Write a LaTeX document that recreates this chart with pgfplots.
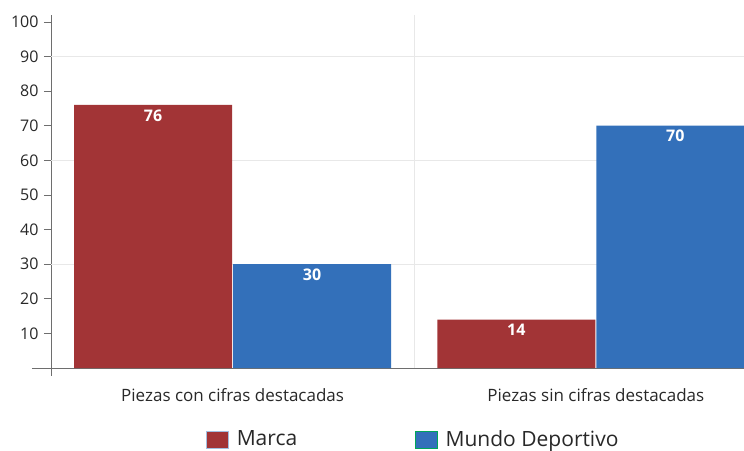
\documentclass[border=0pt]{standalone}
\usepackage{fontspec}
\setmainfont{Open Sans}
\usepackage{pgfplots}
\pgfplotsset{compat=1.18}
\definecolor{marca}{RGB}{162,52,54}
\definecolor{mundo}{RGB}{51,112,186}
\definecolor{axgray}{RGB}{110,110,110}
\definecolor{gridgray}{RGB}{232,232,232}
\definecolor{txt}{RGB}{40,40,40}
\begin{document}
\begin{tikzpicture}
\useasboundingbox (-51pt,-82pt) rectangle (693pt,368pt);
\begin{axis}[
  name=ax,
  at={(0,0)}, anchor=south west,
  scale only axis,
  width=693pt, height=353pt,
  xmin=-0.5, xmax=1.408,
  ymin=0, ymax=102,
  ybar=1pt, bar width=158pt,
  axis lines*=left,
  axis line style={axgray, line width=0.9pt},
  xtick={0,1},
  xticklabels={Piezas con cifras destacadas, Piezas sin cifras destacadas},
  x tick style={draw=none},
  xticklabel style={font=\fontsize{17}{19}\selectfont, text=txt, yshift=-10pt},
  ytick={10,20,...,100},
  y tick style={axgray, line width=0.8pt},
  tick align=outside,
  major tick length=7pt,
  yticklabel style={font=\fontsize{16}{18}\selectfont, text=txt, xshift=-2pt},
  /pgf/number format/assume math mode=true,
  extra y ticks={30,60,90},
  extra y tick labels={},
  extra y tick style={grid=major, major grid style={gridgray, line width=0.9pt}, tick style={draw=none}},
  extra x ticks={0.5},
  extra x tick labels={},
  extra x tick style={grid=major, major grid style={gridgray, line width=0.9pt}, tick style={draw=none}},
  nodes near coords,
  nodes near coords style={anchor=north, text=white, font=\bfseries\fontsize{16}{18}\selectfont, yshift=-1pt},
  legend style={at={(0.523,-0.165)}, anchor=north, draw=none, legend columns=2,
    font=\fontsize{21}{23}\selectfont, text=txt,
    /tikz/every even column/.append style={column sep=116pt}},
  clip=true,
]
\addplot[fill=marca, draw=none, legend image code/.code={\draw[fill=marca, draw=mundo!45!white, line width=0.8pt] (0pt,-9pt) rectangle (22pt,8pt); \path (28pt,0pt);}] coordinates {(0,76) (1,14)};
\addplot[fill=mundo, draw=none, legend image code/.code={\draw[fill=mundo, draw=teal!70!green, line width=0.8pt] (0pt,-9pt) rectangle (22pt,8pt); \path (28pt,0pt);}] coordinates {(0,30) (1,70)};
\legend{Marca, Mundo Deportivo}
\end{axis}
\draw[axgray, line width=0.9pt] (ax.south west) ++(-19pt,0) -- (ax.south west);
\draw[axgray, line width=0.9pt] (ax.south west) -- ++(0,-8pt);
\end{tikzpicture}
\end{document}
